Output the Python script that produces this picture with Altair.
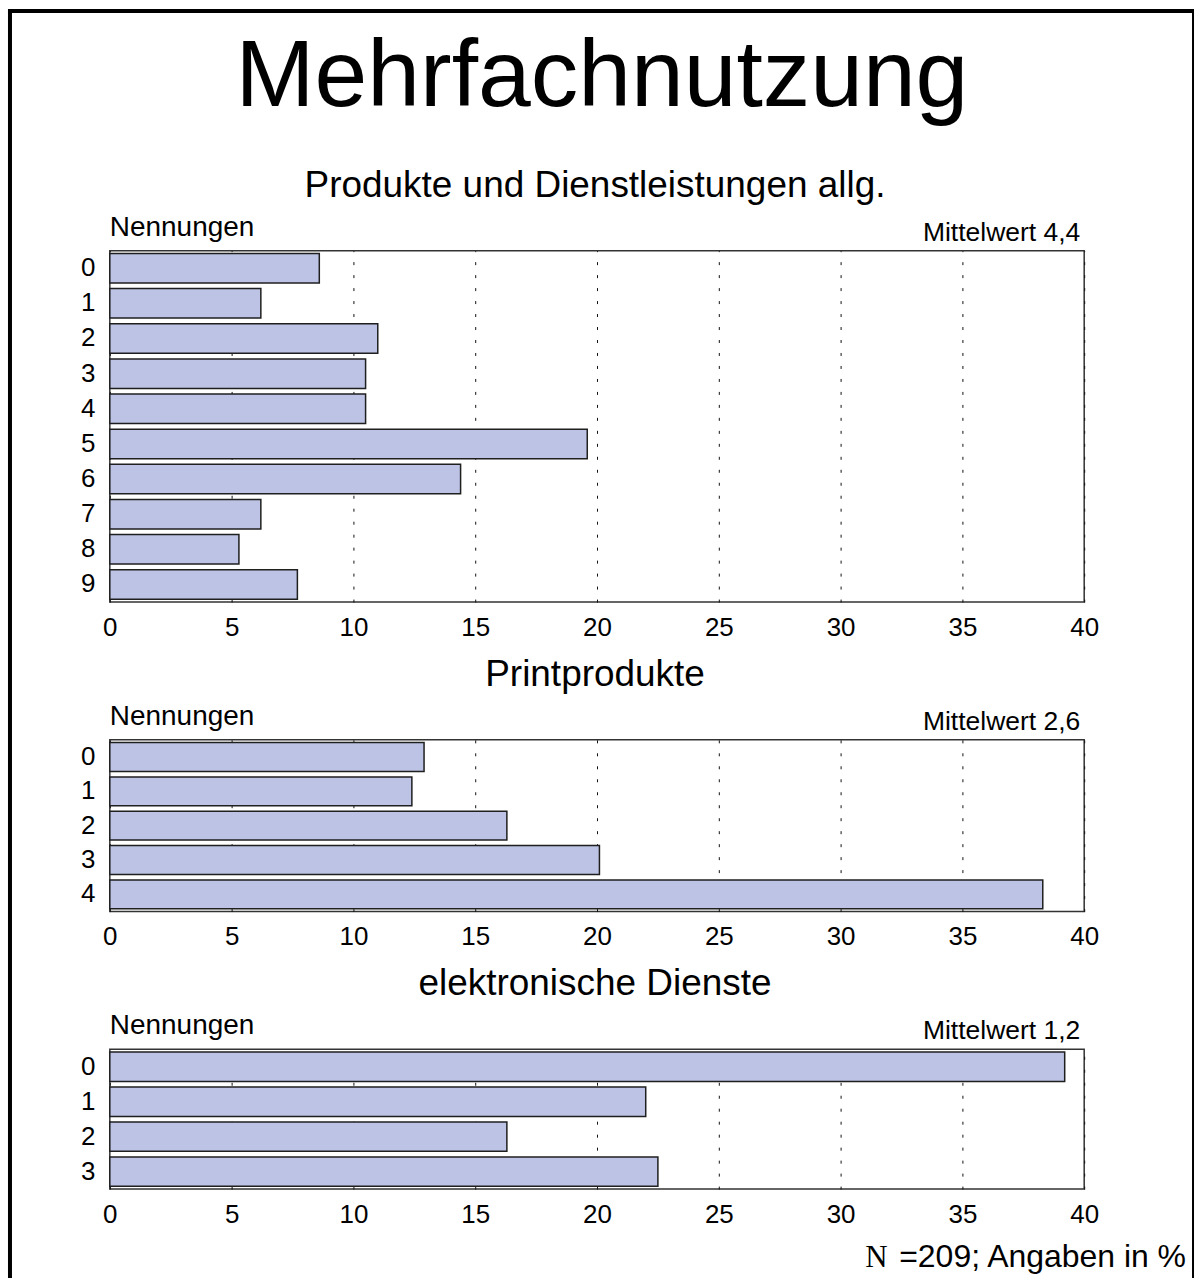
import altair as alt
import pandas as pd

FONT = "Liberation Sans"
SERIF = "Liberation Serif"
BAR_FILL = "#bcc3e4"
BAR_LINE = "#1f1f1f"

# Share of respondents (in %) by number of items used
allg_nennungen = ["0", "1", "2", "3", "4", "5", "6", "7", "8", "9"]
allg_prozent = [8.6, 6.2, 11.0, 10.5, 10.5, 19.6, 14.4, 6.2, 5.3, 7.7]

print_nennungen = ["0", "1", "2", "3", "4"]
print_prozent = [12.9, 12.4, 16.3, 20.1, 38.3]

elektro_nennungen = ["0", "1", "2", "3"]
elektro_prozent = [39.2, 22.0, 16.3, 22.5]

panel_titles = ["Produkte und Dienstleistungen allg.", "Printprodukte", "elektronische Dienste"]
mittelwerte = ["Mittelwert 4,4", "Mittelwert 2,6", "Mittelwert 1,2"]
haupttitel = "Mehrfachnutzung"
fussnote_n = "N"
fussnote_rest = "=209; Angaben in %"
x_ticks = [0, 5, 10, 15, 20, 25, 30, 35, 40]

PLOT_W = 976


def text_layer(label, x, y, size, align="center", font=FONT):
    return alt.Chart(pd.DataFrame({"label": [label]})).mark_text(
        align=align, baseline="alphabetic", fontSize=size, font=font, color="black"
    ).encode(x=alt.value(x), y=alt.value(y), text="label:N")


def panel(cats, vals, title, mittel, height, extra=()):
    df = pd.DataFrame({"Nennungen": cats, "Prozent": vals})
    bars = alt.Chart(df).mark_bar(
        fill=BAR_FILL, stroke=BAR_LINE, strokeWidth=1.5
    ).encode(
        x=alt.X(
            "Prozent:Q",
            scale=alt.Scale(domain=[0, 40], nice=False, zero=True),
            axis=alt.Axis(
                values=x_ticks, title=None, grid=True, gridDash=[3, 10],
                gridColor="#111111", gridWidth=1, ticks=False, domain=False,
                labelFontSize=26, labelPadding=12, labelFont=FONT,
                labelColor="black", labelFlush=False,
            ),
        ),
        y=alt.Y(
            "Nennungen:N", sort=cats,
            scale=alt.Scale(paddingInner=0.16, paddingOuter=0.08),
            axis=alt.Axis(
                title=None, ticks=False, domain=False, grid=False,
                labelFontSize=26, labelPadding=15, labelFont=FONT,
                labelColor="black",
            ),
        ),
    )
    layers = [bars,
              text_layer(title, 486, -54, 37),
              text_layer("Nennungen", 0, -15, 28, align="left"),
              text_layer(mittel, 972, -10, 26.5, align="right")]
    layers.extend(extra)
    return alt.layer(*layers).properties(width=PLOT_W, height=height)


# outer frame and main heading, positioned relative to the first panel
frame_data = pd.DataFrame({"k": [0]})
frame = [
    alt.Chart(frame_data).mark_rule(color="black", strokeWidth=4).encode(
        x=alt.value(-100), y=alt.value(-240), y2=alt.value(1029)),
    alt.Chart(frame_data).mark_rule(color="black", strokeWidth=4).encode(
        x=alt.value(-102), x2=alt.value(1086), y=alt.value(-240)),
    alt.Chart(frame_data).mark_rule(color="black", strokeWidth=2).encode(
        x=alt.value(1085), y=alt.value(-240), y2=alt.value(1029)),
    text_layer(haupttitel, 493, -145, 95),
]

footer = [
    text_layer(fussnote_n, 779, 218, 31, align="right", font=SERIF),
    text_layer(fussnote_rest, 1078, 218, 32, align="right"),
]

p1 = panel(allg_nennungen, allg_prozent, panel_titles[0], mittelwerte[0], 352, frame)
p2 = panel(print_nennungen, print_prozent, panel_titles[1], mittelwerte[1], 172)
p3 = panel(elektro_nennungen, elektro_prozent, panel_titles[2], mittelwerte[2], 140, footer)

chart = alt.vconcat(p1, p2, p3, spacing=138, bounds="flush").properties(
    padding={"left": 5, "top": 7, "right": 0, "bottom": 0},
    background="white",
).configure_view(
    stroke="#333333", strokeWidth=1.5
)

chart.save("out.html", embed_options={"renderer": "svg", "actions": False})
